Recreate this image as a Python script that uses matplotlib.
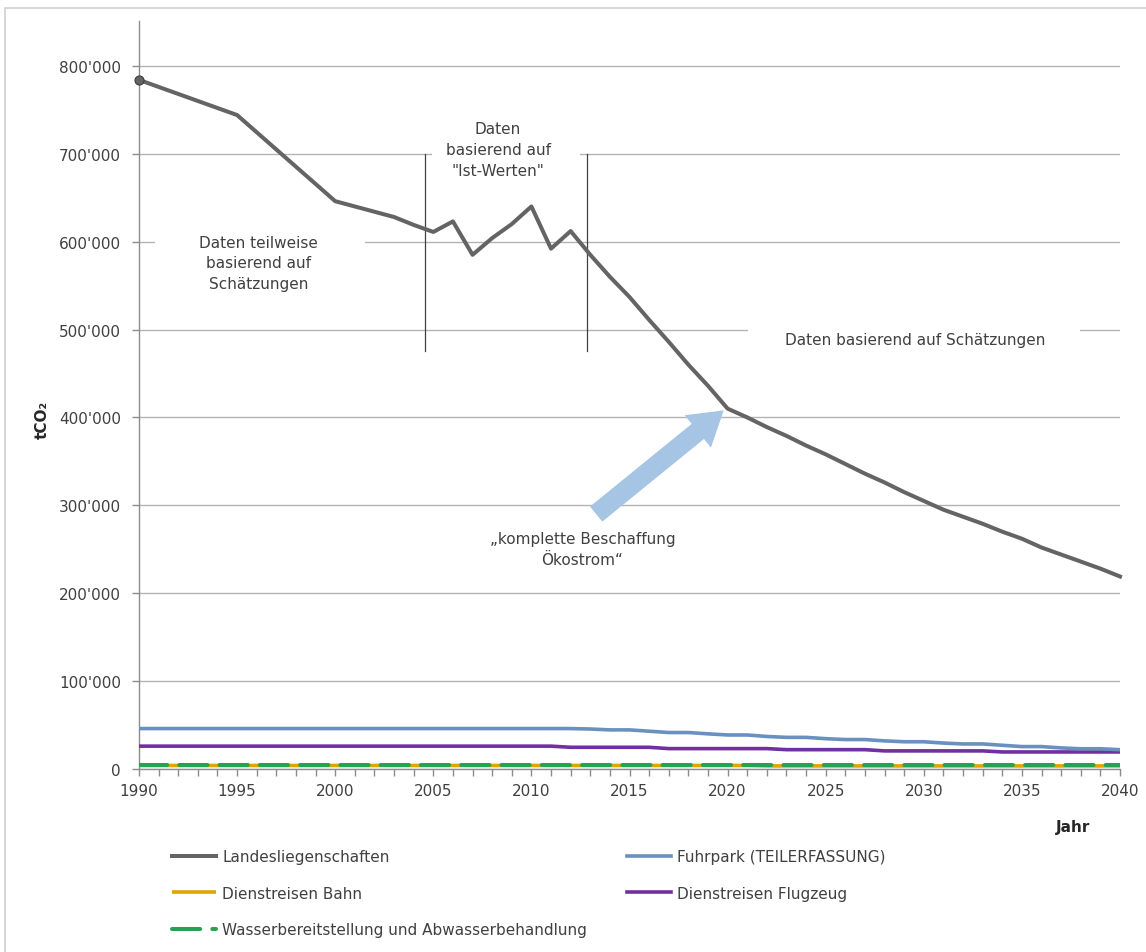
import matplotlib
matplotlib.use("Agg")
import matplotlib.pyplot as plt
from matplotlib.lines import Line2D
from matplotlib.patches import Rectangle
from matplotlib.ticker import FuncFormatter, MultipleLocator

# ---- data -------------------------------------------------------------
years = list(range(1990, 2041))

landes_years = [1990, 1995] + list(range(2000, 2041))
landesliegenschaften = [
    784000, 744000,
    646000, 640000, 634000, 628000, 619000, 611000, 623000, 585000, 604000, 620000,
    640000, 592000, 612000, 585000, 560000, 537000, 511000, 486000, 460000, 436000,
    410000, 400000, 389000, 379000, 368000, 358000, 347000, 336000, 326000, 315000,
    305000, 295000, 287000, 279000, 270000, 262000, 252000, 244000, 236000, 228000,
    219000,
]

fuhrpark = [46000] * 23 + [
    45500, 44500, 44500, 43000, 41500, 41500, 40000, 38700, 38700, 37000,
    36000, 36000, 34500, 33500, 33500, 32000, 31000, 31000, 29500, 28500,
    28500, 27000, 25500, 25500, 24000, 23000, 23000, 22000,
]

dienstreisen_bahn = [4000] * 32 + [3500] * 19

dienstreisen_flugzeug = (
    [26000] * 22 + [24700] * 5 + [23200] * 6 + [22000] * 5 + [20600] * 6 + [19400] * 7
)

wasser = [4200] * 51

series_labels = [
    "Landesliegenschaften",
    "Fuhrpark (TEILERFASSUNG)",
    "Dienstreisen Bahn",
    "Dienstreisen Flugzeug",
    "Wasserbereitstellung und Abwasserbehandlung",
]

# ---- figure -----------------------------------------------------------
W, H = 1146, 953
fig = plt.figure(figsize=(W / 100, H / 100), dpi=100)
plt.rcParams["font.family"] = ["DejaVu Sans"]

def fx(px):
    return px / W

def fy(py):
    return 1 - py / H

ax = fig.add_axes([fx(139), fy(770), fx(1120) - fx(139), fy(22) - fy(770)])

TEXT = "#404040"
AXIS = "#8c8c8c"
GRID = "#b3b3b3"

ax.set_xlim(1990, 2040)
ax.set_ylim(0, 851000)

for s in ("top", "right"):
    ax.spines[s].set_visible(False)
for s in ("left", "bottom"):
    ax.spines[s].set_color(AXIS)
    ax.spines[s].set_linewidth(1.0)

ax.yaxis.set_major_locator(MultipleLocator(100000))
ax.yaxis.set_major_formatter(
    FuncFormatter(lambda v, p: f"{int(round(v)):,}".replace(",", "'"))
)
ax.xaxis.set_major_locator(MultipleLocator(5))
ax.xaxis.set_minor_locator(MultipleLocator(1))
ax.tick_params(axis="y", direction="out", length=5, width=1, color=AXIS,
               labelsize=11, labelcolor=TEXT, pad=8)
ax.tick_params(axis="x", which="both", direction="out", length=5, width=1,
               color=AXIS, labelsize=11, labelcolor=TEXT, pad=5)
ax.grid(axis="y", color=GRID, linewidth=1.0, zorder=0)
ax.set_axisbelow(True)

# white boxes behind the annotation texts
for (x0, y0, w, h) in [(1990.8, 535000, 10.7, 77000),
                        (2004.93, 669000, 7.55, 80000),
                        (2021.04, 478000, 16.9, 25000)]:
    ax.add_patch(Rectangle((x0, y0), w, h, facecolor="white", edgecolor="none",
                           zorder=1))

# separators of the data periods
for xv in (2004.6, 2012.85):
    ax.plot([xv, xv], [475700, 700000], color=TEXT, linewidth=0.9, zorder=2)

# arrow pointing at 2020
ax.annotate("", xy=(2019.8, 408000), xytext=(2013.3, 290000),
            arrowprops=dict(arrowstyle="simple,head_length=2.4,head_width=3.0,tail_width=1.4",
                            mutation_scale=10, facecolor="#a6c4e3",
                            edgecolor="none", shrinkA=0, shrinkB=0),
            zorder=2)

# series
l_bahn, = ax.plot(years, dienstreisen_bahn, color="#dfa500", linewidth=2.6,
                  solid_capstyle="butt", zorder=3)
l_wasser, = ax.plot(years, wasser, color="#2aa055", linewidth=2.9,
                    dashes=(7, 3), dash_capstyle="round", zorder=4)
l_flug, = ax.plot(years, dienstreisen_flugzeug, color="#7130a2", linewidth=2.6,
                  zorder=3)
l_fuhr, = ax.plot(years, fuhrpark, color="#6a90c0", linewidth=2.6, zorder=3)
ax.plot(landes_years, landesliegenschaften, color="#646464",
        linewidth=2.9, marker="o", markevery=[0], markersize=6.5,
        markerfacecolor="#646464", markeredgecolor="#3c3c3c",
        markeredgewidth=0.8, zorder=5, clip_on=False)
l_landes = Line2D([], [], color="#646464", linewidth=2.9)

# annotation texts
ax.text(1996.1, 575800, "Daten teilweise\nbasierend auf\nSchätzungen",
        ha="center", va="center", fontsize=11, color=TEXT, linespacing=1.45,
        zorder=6)
ax.text(2008.3, 704400, "Daten\nbasierend auf\n\"Ist-Werten\"",
        ha="center", va="center", fontsize=11, color=TEXT, linespacing=1.5,
        zorder=6)
ax.text(2029.55, 488500, "Daten basierend auf Schätzungen",
        ha="center", va="center", fontsize=11, color=TEXT, zorder=6)
ax.text(2012.6, 250000, "„komplette Beschaffung\nÖkostrom“",
        ha="center", va="center", fontsize=11, color=TEXT, linespacing=1.5,
        zorder=6)

# axis titles
fig.text(fx(1073), fy(828), "Jahr", ha="center", va="center", fontsize=11,
         fontweight="bold", color="#262626")
fig.text(fx(42), fy(420), "tCO₂", ha="center", va="center", fontsize=11,
         fontweight="bold", color="#262626", rotation=90)

# legend in two columns
leg_kw = dict(loc="upper left", frameon=False, fontsize=11, borderpad=0,
              borderaxespad=0, handlelength=2.9, handletextpad=0.4,
              labelspacing=1.42, labelcolor=TEXT)
fig.legend([l_landes, l_bahn, l_wasser],
           [series_labels[0], series_labels[2], series_labels[4]],
           bbox_to_anchor=(fx(172), fy(850)), **leg_kw)
fig.legend([l_fuhr, l_flug], [series_labels[1], series_labels[3]],
           bbox_to_anchor=(fx(627), fy(850)), **leg_kw)

# outer frame
fig.add_artist(Line2D([fx(5), fx(5), 1.0], [0.0, fy(9), fy(9)],
                      transform=fig.transFigure, color="#d0d0d0", linewidth=1.2))

fig.savefig("out.png", dpi=100)
